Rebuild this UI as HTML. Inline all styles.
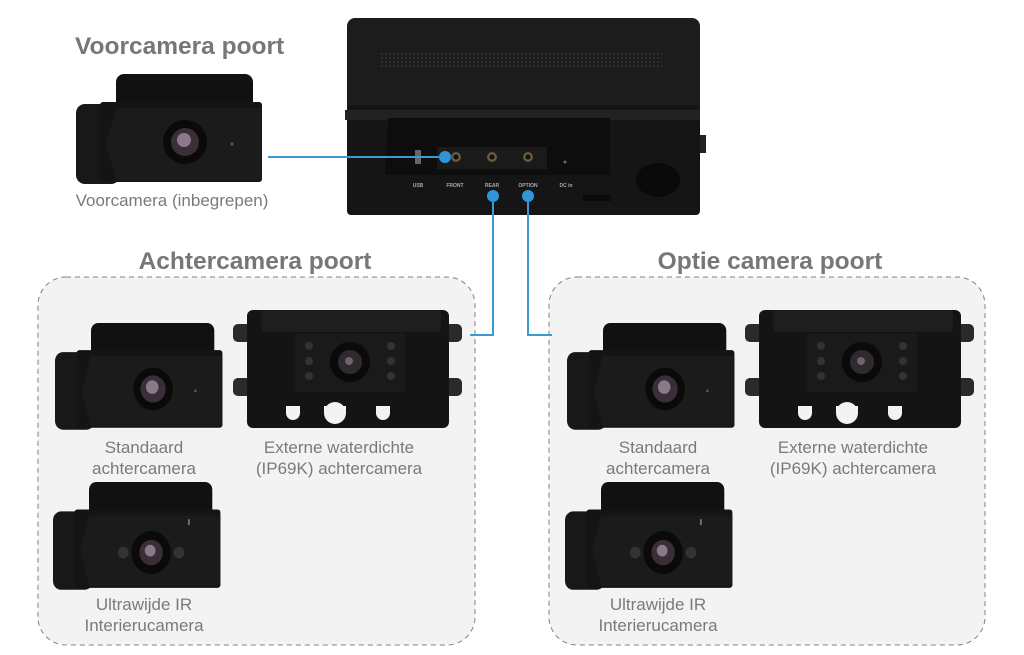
<!DOCTYPE html>
<html><head><meta charset="utf-8"><style>
html,body{margin:0;padding:0;background:#fff}
svg{display:block}
text{font-family:"Liberation Sans",sans-serif}
.t{font-size:24.5px;font-weight:bold;fill:#777}
.l{font-size:17px;fill:#7a7a7a}
.p{font-size:5px;fill:#aaa;font-weight:bold}
</style></head><body>
<svg width="1024" height="655" viewBox="0 0 1024 655" xmlns="http://www.w3.org/2000/svg">
<defs>
<pattern id="grille" width="4" height="4" patternUnits="userSpaceOnUse">
  <rect width="4" height="4" fill="#1c1c1c"/><circle cx="2" cy="2" r="0.9" fill="#3a3a3a"/>
</pattern>
<g id="std">
  <rect x="40" y="0" width="137" height="36" rx="8" fill="#111"/>
  <rect x="0" y="30" width="44" height="80" rx="9" fill="#181818"/>
  <rect x="24" y="28" width="162" height="80" rx="3" fill="#141414"/>
  <polygon points="40,34 186,34 186,106 40,106 30,70" fill="#1b1b1b"/>
  <circle cx="109" cy="68" r="22" fill="#0a0a0a"/>
  <circle cx="109" cy="68" r="14" fill="#3a2f38"/>
  <circle cx="108" cy="66" r="7" fill="#8c7a8c"/>
  <circle cx="156" cy="70" r="1.5" fill="#555"/>
</g>
<g id="ir">
  <rect x="40" y="0" width="137" height="36" rx="8" fill="#111"/>
  <rect x="0" y="30" width="44" height="80" rx="9" fill="#181818"/>
  <rect x="24" y="28" width="162" height="80" rx="3" fill="#141414"/>
  <polygon points="40,34 186,34 186,106 40,106 30,70" fill="#1b1b1b"/>
  <circle cx="109" cy="72" r="22" fill="#0a0a0a"/>
  <circle cx="109" cy="72" r="13" fill="#3a2f38"/>
  <circle cx="108" cy="70" r="6" fill="#8c7a8c"/>
  <circle cx="78" cy="72" r="6" fill="#333"/>
  <circle cx="140" cy="72" r="6" fill="#333"/>
  <rect x="150" y="38" width="2" height="6" fill="#777"/>
</g>
<g id="wp">
  <rect x="0" y="14" width="20" height="18" rx="5" fill="#2a2a2a"/>
  <rect x="0" y="68" width="20" height="18" rx="5" fill="#2a2a2a"/>
  <rect x="209" y="14" width="20" height="18" rx="5" fill="#2a2a2a"/>
  <rect x="209" y="68" width="20" height="18" rx="5" fill="#2a2a2a"/>
  <rect x="14" y="0" width="202" height="118" rx="6" fill="#141414"/>
  <rect x="28" y="0" width="180" height="22" rx="4" fill="#1e1e1e"/>
  <rect x="62" y="24" width="110" height="58" fill="#1a1a1a"/>
  <circle cx="117" cy="52" r="20" fill="#0a0a0a"/>
  <circle cx="117" cy="52" r="12" fill="#2e2a2e"/>
  <circle cx="116" cy="51" r="4" fill="#6e626e"/>
  <circle cx="76" cy="36" r="4" fill="#333"/><circle cx="76" cy="51" r="4" fill="#333"/><circle cx="76" cy="66" r="4" fill="#333"/>
  <circle cx="158" cy="36" r="4" fill="#333"/><circle cx="158" cy="51" r="4" fill="#333"/><circle cx="158" cy="66" r="4" fill="#333"/>
  <circle cx="60" cy="103" r="7" fill="#f3f3f3"/><rect x="53" y="96" width="14" height="7" fill="#f3f3f3"/>
  <circle cx="102" cy="103" r="11" fill="#f3f3f3"/><rect x="91" y="96" width="22" height="7" fill="#f3f3f3"/>
  <circle cx="150" cy="103" r="7" fill="#f3f3f3"/><rect x="143" y="96" width="14" height="7" fill="#f3f3f3"/>
</g>
</defs>

<text class="t" x="75" y="54">Voorcamera poort</text>
<text class="t" x="255" y="269" text-anchor="middle">Achtercamera poort</text>
<text class="t" x="770" y="269" text-anchor="middle">Optie camera poort</text>

<rect x="38" y="277" width="437" height="368" rx="28" fill="#f3f3f3" stroke="#808080" stroke-width="1" stroke-dasharray="5,4"/>
<rect x="549" y="277" width="436" height="368" rx="28" fill="#f3f3f3" stroke="#808080" stroke-width="1" stroke-dasharray="5,4"/>

<use href="#std" transform="translate(76,74)"/>
<text class="l" x="172" y="206" text-anchor="middle">Voorcamera (inbegrepen)</text>

<rect x="347" y="18" width="353" height="110" rx="8" fill="#1c1c1c"/>
<rect x="380" y="52" width="282" height="16" fill="url(#grille)"/>
<rect x="347" y="105" width="353" height="110" rx="4" fill="#151515"/>
<path d="M345 110 L700 110 L700 120 L345 120 Z" fill="#222"/>
<path d="M388 118 L610 118 L610 175 L385 175 Z" fill="#0d0d0d"/>
<rect x="437" y="147" width="110" height="22" fill="#1a1a1a"/>
<rect x="415" y="150" width="6" height="14" fill="#666"/>
<circle cx="456" cy="157" r="5" fill="#6b5a3a"/><circle cx="456" cy="157" r="2.5" fill="#111"/>
<circle cx="492" cy="157" r="5" fill="#6b5a3a"/><circle cx="492" cy="157" r="2.5" fill="#111"/>
<circle cx="528" cy="157" r="5" fill="#6b5a3a"/><circle cx="528" cy="157" r="2.5" fill="#111"/>
<circle cx="565" cy="162" r="1.5" fill="#666"/>
<ellipse cx="658" cy="180" rx="22" ry="17" fill="#0a0a0a"/>
<rect x="700" y="135" width="6" height="18" fill="#222"/>
<rect x="583" y="195" width="28" height="6" fill="#0a0a0a"/>
<text class="p" x="418" y="187" text-anchor="middle">USB</text>
<text class="p" x="455" y="187" text-anchor="middle">FRONT</text>
<text class="p" x="492" y="187" text-anchor="middle">REAR</text>
<text class="p" x="528" y="187" text-anchor="middle">OPTION</text>
<text class="p" x="566" y="187" text-anchor="middle">DC in</text>

<g stroke="#3a9ad6" stroke-width="2" fill="none">
<path d="M268 157 H445"/>
<path d="M493 196 V335 H470"/>
<path d="M528 196 V335 H552"/>
</g>
<circle cx="445" cy="157" r="6" fill="#2f95d8"/>
<circle cx="493" cy="196" r="6" fill="#2f95d8"/>
<circle cx="528" cy="196" r="6" fill="#2f95d8"/>

<use href="#std" transform="translate(55,323) scale(0.9,0.97)"/>
<use href="#wp" transform="translate(233,310)"/>
<use href="#ir" transform="translate(53,482) scale(0.9,0.98)"/>
<text class="l" x="144" y="453" text-anchor="middle">Standaard</text>
<text class="l" x="144" y="474" text-anchor="middle">achtercamera</text>
<text class="l" x="339" y="453" text-anchor="middle">Externe waterdichte</text>
<text class="l" x="339" y="474" text-anchor="middle">(IP69K) achtercamera</text>
<text class="l" x="144" y="610" text-anchor="middle">Ultrawijde IR</text>
<text class="l" x="144" y="631" text-anchor="middle">Interierucamera</text>

<use href="#std" transform="translate(567,323) scale(0.9,0.97)"/>
<use href="#wp" transform="translate(745,310)"/>
<use href="#ir" transform="translate(565,482) scale(0.9,0.98)"/>
<text class="l" x="658" y="453" text-anchor="middle">Standaard</text>
<text class="l" x="658" y="474" text-anchor="middle">achtercamera</text>
<text class="l" x="853" y="453" text-anchor="middle">Externe waterdichte</text>
<text class="l" x="853" y="474" text-anchor="middle">(IP69K) achtercamera</text>
<text class="l" x="658" y="610" text-anchor="middle">Ultrawijde IR</text>
<text class="l" x="658" y="631" text-anchor="middle">Interierucamera</text>
</svg>
</body></html>
